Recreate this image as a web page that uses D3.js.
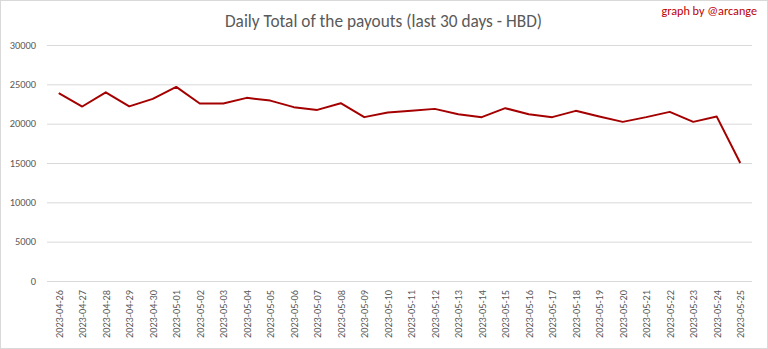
<!DOCTYPE html>
<html><head><meta charset="utf-8">
<script src="https://cdn.jsdelivr.net/npm/d3@7"></script>
<style>html,body{margin:0;padding:0;background:#fff;}svg{display:block;}</style>
</head><body>
<script>
const dates = ["2023-04-26","2023-04-27","2023-04-28","2023-04-29","2023-04-30","2023-05-01","2023-05-02","2023-05-03","2023-05-04","2023-05-05","2023-05-06","2023-05-07","2023-05-08","2023-05-09","2023-05-10","2023-05-11","2023-05-12","2023-05-13","2023-05-14","2023-05-15","2023-05-16","2023-05-17","2023-05-18","2023-05-19","2023-05-20","2023-05-21","2023-05-22","2023-05-23","2023-05-24","2023-05-25"];
const payouts = [23880,22180,23990,22200,23150,24670,22560,22560,23280,22930,22100,21750,22600,20830,21410,21630,21880,21200,20830,21970,21200,20830,21630,20900,20230,20830,21500,20230,20900,15000];
const yTicks = [0,5000,10000,15000,20000,25000,30000];
const titleText = "Daily Total of the payouts (last 30 days - HBD)";
const creditText = "graph by @arcange";

const W = 768, H = 349;
const m = {left:47, right:16, top:45, bottom:68};
const svg = d3.select("body").append("svg").attr("width",W).attr("height",H);
svg.append("rect").attr("x",0.5).attr("y",0.5).attr("width",W-1).attr("height",H-1)
  .attr("fill","#fff").attr("stroke","#d9d9d9");

const x = d3.scalePoint().domain(dates).range([m.left, W-m.right]).padding(0.5);
const y = d3.scaleLinear().domain([0,30000]).range([H-m.bottom, m.top]);

const font = "Calibri, Carlito, 'Liberation Sans', Arial, sans-serif";

// gridlines
const yAxis = d3.axisLeft(y).tickValues(yTicks).tickSize(-(W-m.left-m.right)).tickPadding(11).tickFormat(d3.format("d"));
const gy = svg.append("g").attr("transform",`translate(${m.left},0)`).call(yAxis);
gy.select(".domain").remove();
gy.selectAll(".tick line").attr("stroke","#d9d9d9").attr("stroke-width",1);
gy.selectAll(".tick text").attr("fill","#595959").style("font-family",font).style("font-size","10.4px");

// x axis
const xAxis = d3.axisBottom(x).tickSize(0).tickPadding(0);
const gx = svg.append("g").attr("transform",`translate(0,${H-m.bottom})`).call(xAxis);
gx.select(".domain").remove();
gx.selectAll(".tick text")
  .attr("transform","rotate(-90)")
  .attr("text-anchor","end")
  .attr("x",-9).attr("y",0).attr("dy","0.32em")
  .attr("fill","#595959").style("font-family",font).style("font-size","10.3px");

// line
const line = d3.line().x((d,i)=>x(dates[i])).y(d=>y(d));
svg.append("path").datum(payouts).attr("d",line)
  .attr("fill","none").attr("stroke","#a50000").attr("stroke-width",2).attr("stroke-linejoin","round");

// title
svg.append("text").attr("x",383.5).attr("y",27).attr("text-anchor","middle")
  .attr("fill","#595959").style("font-family",font).style("font-size","17.3px").text(titleText);
svg.append("text").attr("x",757).attr("y",15).attr("text-anchor","end")
  .attr("fill","#c00000").style("font-family",font).style("font-size","12.2px").text(creditText);
</script>
</body></html>
